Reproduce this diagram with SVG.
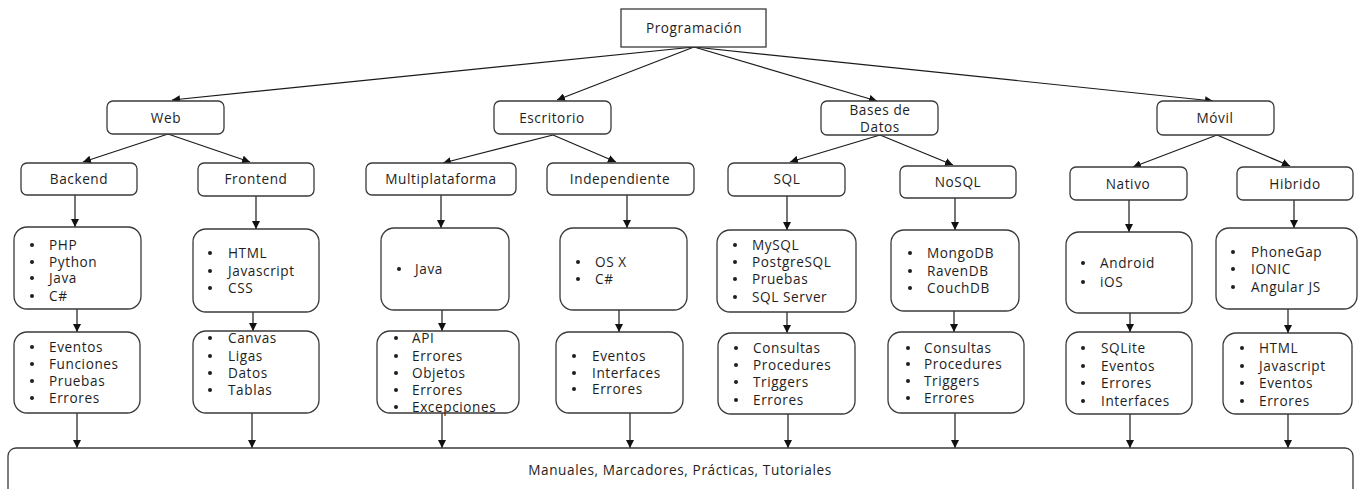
<svg xmlns="http://www.w3.org/2000/svg" width="1359" height="489" viewBox="0 0 1359 489">
<defs>
<marker id="ah" markerUnits="userSpaceOnUse" markerWidth="9" markerHeight="8" refX="8" refY="4" orient="auto" viewBox="0 0 9 8">
<path d="M0,0 L8,4 L0,8 z" fill="#111"/>
</marker>
<style>
.n{fill:#fff;stroke:#3a3a3a;stroke-width:1.3}
.t{font-family:"Open Sans","Liberation Sans",sans-serif;font-size:13.6px;letter-spacing:0.6px;fill:#1e1e1e}
.c{text-anchor:middle}
.b{fill:#1e1e1e}
.e{fill:none;stroke:#1a1a1a;stroke-width:1.2;marker-end:url(#ah)}
</style>
</defs>
<rect width="1359" height="489" fill="#fff"/>

<g id="connectors">
<line class="e" x1="694" y1="47" x2="172" y2="100"/>
<line class="e" x1="694" y1="47" x2="557" y2="100"/>
<line class="e" x1="694" y1="47" x2="877" y2="101"/>
<line class="e" x1="694" y1="47" x2="1213" y2="101"/>
<line class="e" x1="168" y1="134" x2="83" y2="162"/>
<line class="e" x1="168" y1="134" x2="250" y2="162"/>
<line class="e" x1="553" y1="135" x2="443" y2="163"/>
<line class="e" x1="553" y1="135" x2="616" y2="162"/>
<line class="e" x1="880" y1="135" x2="790" y2="162"/>
<line class="e" x1="880" y1="135" x2="953" y2="165"/>
<line class="e" x1="1217" y1="135" x2="1133" y2="167"/>
<line class="e" x1="1217" y1="135" x2="1290" y2="166"/>
<line class="e" x1="75" y1="195" x2="75" y2="227"/>
<line class="e" x1="256" y1="196" x2="256" y2="229"/>
<line class="e" x1="441" y1="195" x2="441" y2="228"/>
<line class="e" x1="627" y1="195" x2="627" y2="228"/>
<line class="e" x1="787" y1="196" x2="787" y2="230"/>
<line class="e" x1="955" y1="198" x2="955" y2="230"/>
<line class="e" x1="1129" y1="200" x2="1129" y2="232"/>
<line class="e" x1="1294" y1="200" x2="1294" y2="228"/>
<line class="e" x1="77" y1="309" x2="77" y2="332"/>
<line class="e" x1="253" y1="312" x2="253" y2="331"/>
<line class="e" x1="442" y1="310" x2="442" y2="331"/>
<line class="e" x1="619" y1="310" x2="619" y2="332"/>
<line class="e" x1="787" y1="312" x2="787" y2="333"/>
<line class="e" x1="954" y1="311" x2="954" y2="332"/>
<line class="e" x1="1130" y1="313" x2="1130" y2="332"/>
<line class="e" x1="1288" y1="309" x2="1288" y2="333"/>
<line class="e" x1="77" y1="413" x2="77" y2="448"/>
<line class="e" x1="252" y1="413" x2="252" y2="448"/>
<line class="e" x1="442" y1="413" x2="442" y2="448"/>
<line class="e" x1="630" y1="413" x2="630" y2="448"/>
<line class="e" x1="788" y1="414" x2="788" y2="448"/>
<line class="e" x1="955" y1="413" x2="955" y2="448"/>
<line class="e" x1="1130" y1="414" x2="1130" y2="448"/>
<line class="e" x1="1288" y1="414" x2="1288" y2="448"/>
</g>

<g id="programacion"><rect class="n" x="621" y="9" width="145" height="38"/><text class="t c" x="694" y="33">Programación</text></g>

<g id="web"><rect class="n" x="107" y="101" width="117" height="33" rx="6"/><text class="t c" x="166" y="123">Web</text></g>
<g id="escritorio"><rect class="n" x="494" y="101" width="117" height="33" rx="6"/><text class="t c" x="552" y="123">Escritorio</text></g>
<g id="bases"><rect class="n" x="821" y="101" width="117" height="34" rx="6"/><text class="t c" x="880" y="115">Bases de</text><text class="t c" x="880" y="132">Datos</text></g>
<g id="movil"><rect class="n" x="1157" y="101" width="117" height="34" rx="6"/><text class="t c" x="1215" y="123">Móvil</text></g>

<g id="backend"><rect class="n" x="21" y="163" width="116" height="32" rx="6"/><text class="t c" x="79" y="184">Backend</text></g>
<g id="frontend"><rect class="n" x="198" y="163" width="116" height="33" rx="6"/><text class="t c" x="256" y="184">Frontend</text></g>
<g id="multiplataforma"><rect class="n" x="366" y="163" width="150" height="32" rx="6"/><text class="t c" x="441" y="184">Multiplataforma</text></g>
<g id="independiente"><rect class="n" x="547" y="163" width="147" height="32" rx="6"/><text class="t c" x="620" y="184">Independiente</text></g>
<g id="sql"><rect class="n" x="728" y="163" width="117" height="33" rx="6"/><text class="t c" x="787" y="184">SQL</text></g>
<g id="nosql"><rect class="n" x="900" y="166" width="116" height="32" rx="6"/><text class="t c" x="958" y="187">NoSQL</text></g>
<g id="nativo"><rect class="n" x="1070" y="167" width="117" height="33" rx="6"/><text class="t c" x="1128" y="189">Nativo</text></g>
<g id="hibrido"><rect class="n" x="1237" y="167" width="116" height="33" rx="6"/><text class="t c" x="1295" y="189">Hibrido</text></g>

<g id="backend-lenguajes"><rect class="n" x="14" y="227" width="127" height="82" rx="13"/>
<circle class="b" cx="32" cy="245" r="2"/><text class="t" x="49" y="250">PHP</text>
<circle class="b" cx="32" cy="262" r="2"/><text class="t" x="49" y="267">Python</text>
<circle class="b" cx="32" cy="278" r="2"/><text class="t" x="49" y="283">Java</text>
<circle class="b" cx="32" cy="296" r="2"/><text class="t" x="49" y="301">C#</text></g>

<g id="frontend-lenguajes"><rect class="n" x="193" y="229" width="126" height="83" rx="13"/>
<circle class="b" cx="210" cy="253" r="2"/><text class="t" x="228" y="258">HTML</text>
<circle class="b" cx="210" cy="271" r="2"/><text class="t" x="228" y="276">Javascript</text>
<circle class="b" cx="210" cy="288" r="2"/><text class="t" x="228" y="293">CSS</text></g>

<g id="multi-lenguajes"><rect class="n" x="381" y="228" width="128" height="82" rx="13"/>
<circle class="b" cx="399" cy="269" r="2"/><text class="t" x="415" y="274">Java</text></g>

<g id="indep-lenguajes"><rect class="n" x="560" y="228" width="127" height="82" rx="13"/>
<circle class="b" cx="578" cy="262" r="2"/><text class="t" x="595" y="267">OS X</text>
<circle class="b" cx="578" cy="279" r="2"/><text class="t" x="595" y="284">C#</text></g>

<g id="sql-motores"><rect class="n" x="717" y="230" width="139" height="82" rx="13"/>
<circle class="b" cx="735" cy="245" r="2"/><text class="t" x="752" y="250">MySQL</text>
<circle class="b" cx="735" cy="262" r="2"/><text class="t" x="752" y="267">PostgreSQL</text>
<circle class="b" cx="735" cy="279" r="2"/><text class="t" x="752" y="284">Pruebas</text>
<circle class="b" cx="735" cy="297" r="2"/><text class="t" x="752" y="302">SQL Server</text></g>

<g id="nosql-motores"><rect class="n" x="891" y="230" width="128" height="81" rx="13"/>
<circle class="b" cx="910" cy="253" r="2"/><text class="t" x="927" y="258">MongoDB</text>
<circle class="b" cx="910" cy="271" r="2"/><text class="t" x="927" y="276">RavenDB</text>
<circle class="b" cx="910" cy="288" r="2"/><text class="t" x="927" y="293">CouchDB</text></g>

<g id="nativo-plataformas"><rect class="n" x="1066" y="232" width="126" height="81" rx="13"/>
<circle class="b" cx="1083" cy="263" r="2"/><text class="t" x="1100" y="268">Android</text>
<circle class="b" cx="1083" cy="282" r="2"/><text class="t" x="1100" y="287">iOS</text></g>

<g id="hibrido-frameworks"><rect class="n" x="1216" y="228" width="141" height="81" rx="13"/>
<circle class="b" cx="1233" cy="252" r="2"/><text class="t" x="1251" y="257">PhoneGap</text>
<circle class="b" cx="1233" cy="269" r="2"/><text class="t" x="1251" y="274">IONIC</text>
<circle class="b" cx="1233" cy="287" r="2"/><text class="t" x="1251" y="292">Angular JS</text></g>

<g id="backend-temas"><rect class="n" x="14" y="332" width="126" height="81" rx="13"/>
<circle class="b" cx="32" cy="347" r="2"/><text class="t" x="49" y="352">Eventos</text>
<circle class="b" cx="32" cy="364" r="2"/><text class="t" x="49" y="369">Funciones</text>
<circle class="b" cx="32" cy="381" r="2"/><text class="t" x="49" y="386">Pruebas</text>
<circle class="b" cx="32" cy="398" r="2"/><text class="t" x="49" y="403">Errores</text></g>

<g id="frontend-temas"><rect class="n" x="193" y="331" width="126" height="82" rx="13"/>
<circle class="b" cx="210" cy="338" r="2"/><text class="t" x="228" y="343">Canvas</text>
<circle class="b" cx="210" cy="356" r="2"/><text class="t" x="228" y="361">Ligas</text>
<circle class="b" cx="210" cy="373" r="2"/><text class="t" x="228" y="378">Datos</text>
<circle class="b" cx="210" cy="390" r="2"/><text class="t" x="228" y="395">Tablas</text></g>

<g id="multi-temas"><rect class="n" x="377" y="331" width="142" height="82" rx="13"/>
<circle class="b" cx="396" cy="338" r="2"/><text class="t" x="412" y="343">API</text>
<circle class="b" cx="396" cy="356" r="2"/><text class="t" x="412" y="361">Errores</text>
<circle class="b" cx="396" cy="373" r="2"/><text class="t" x="412" y="378">Objetos</text>
<circle class="b" cx="396" cy="390" r="2"/><text class="t" x="412" y="395">Errores</text>
<circle class="b" cx="396" cy="407" r="2"/><text class="t" x="412" y="412">Excepciones</text></g>

<g id="indep-temas"><rect class="n" x="556" y="332" width="127" height="81" rx="13"/>
<circle class="b" cx="574" cy="356" r="2"/><text class="t" x="592" y="361">Eventos</text>
<circle class="b" cx="574" cy="373" r="2"/><text class="t" x="592" y="378">Interfaces</text>
<circle class="b" cx="574" cy="389" r="2"/><text class="t" x="592" y="394">Errores</text></g>

<g id="sql-temas"><rect class="n" x="718" y="333" width="137" height="81" rx="13"/>
<circle class="b" cx="736" cy="348" r="2"/><text class="t" x="753" y="353">Consultas</text>
<circle class="b" cx="736" cy="365" r="2"/><text class="t" x="753" y="370">Procedures</text>
<circle class="b" cx="736" cy="382" r="2"/><text class="t" x="753" y="387">Triggers</text>
<circle class="b" cx="736" cy="400" r="2"/><text class="t" x="753" y="405">Errores</text></g>

<g id="nosql-temas"><rect class="n" x="888" y="332" width="136" height="81" rx="13"/>
<circle class="b" cx="908" cy="348" r="2"/><text class="t" x="924" y="353">Consultas</text>
<circle class="b" cx="908" cy="364" r="2"/><text class="t" x="924" y="369">Procedures</text>
<circle class="b" cx="908" cy="381" r="2"/><text class="t" x="924" y="386">Triggers</text>
<circle class="b" cx="908" cy="398" r="2"/><text class="t" x="924" y="403">Errores</text></g>

<g id="nativo-temas"><rect class="n" x="1066" y="332" width="126" height="82" rx="13"/>
<circle class="b" cx="1083" cy="348" r="2"/><text class="t" x="1101" y="353">SQLite</text>
<circle class="b" cx="1083" cy="366" r="2"/><text class="t" x="1101" y="371">Eventos</text>
<circle class="b" cx="1083" cy="383" r="2"/><text class="t" x="1101" y="388">Errores</text>
<circle class="b" cx="1083" cy="401" r="2"/><text class="t" x="1101" y="406">Interfaces</text></g>

<g id="hibrido-temas"><rect class="n" x="1223" y="333" width="129" height="81" rx="13"/>
<circle class="b" cx="1242" cy="348" r="2"/><text class="t" x="1259" y="353">HTML</text>
<circle class="b" cx="1242" cy="366" r="2"/><text class="t" x="1259" y="371">Javascript</text>
<circle class="b" cx="1242" cy="383" r="2"/><text class="t" x="1259" y="388">Eventos</text>
<circle class="b" cx="1242" cy="401" r="2"/><text class="t" x="1259" y="406">Errores</text></g>

<g id="recursos"><rect class="n" x="8" y="448" width="1345" height="60" rx="8"/><text class="t c" x="680" y="475">Manuales, Marcadores, Prácticas, Tutoriales</text></g>
</svg>
